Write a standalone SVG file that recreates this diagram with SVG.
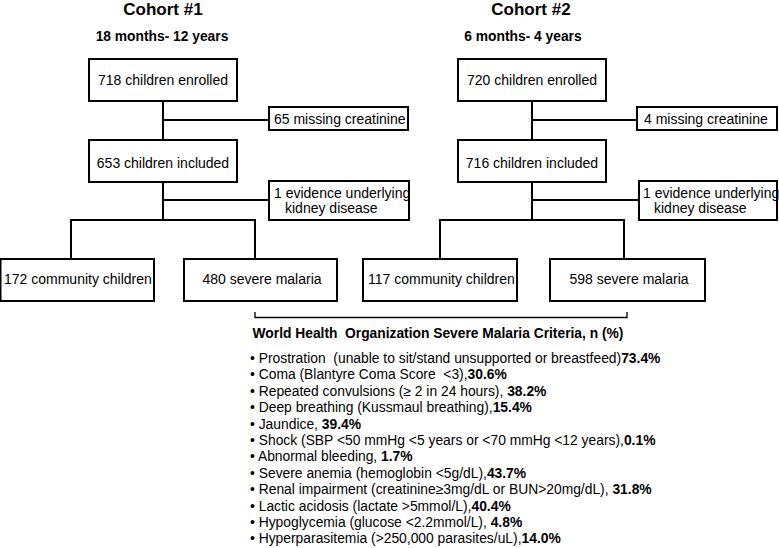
<svg xmlns="http://www.w3.org/2000/svg" width="779" height="548" viewBox="0 0 779 548">
<style>
text{font-family:"Liberation Sans",Arial,sans-serif;fill:#000;white-space:pre}
.t{font-size:17px;font-weight:bold;text-anchor:middle}
.s{font-size:13.8px;font-weight:bold;text-anchor:middle}
.n{font-size:14px}
.c{text-anchor:middle}
.l{font-size:13.85px}
.b{font-weight:bold}
rect{fill:#fff;stroke:#000;stroke-width:2}
.cn path{fill:none;stroke:#000;stroke-width:2}
.cn .br{stroke-width:1.3}
</style>
<rect x="0" y="0" width="779" height="548" style="stroke:none"/>
<g id="titles">
<text class="t" x="163" y="15">Cohort #1</text>
<text class="s" x="162" y="41">18 months- 12 years</text>
<text class="t" x="531" y="15">Cohort #2</text>
<text class="s" x="523" y="41">6 months- 4 years</text>
</g>
<g class="cn" id="connectors">
<path d="M163 101V140M163 120H269M163 182V220M163 200H269M71 259V220H255V259"/>
<path d="M532 101V140M532 120H637M532 182V220M532 200H639M440 259V220H624V259"/>
<path class="br" d="M255 312V317.5H627V312"/>
</g>
<g id="c1-enrolled"><rect x="89" y="59" width="148" height="42"/><text class="n c" x="163" y="85">718 children enrolled</text></g>
<g id="c1-missing"><rect x="269" y="107" width="139" height="23"/><text class="n" x="274" y="124">65 missing creatinine</text></g>
<g id="c1-included"><rect x="89" y="140" width="148" height="42"/><text class="n c" x="163" y="168">653 children included</text></g>
<g id="c1-kidney"><rect x="269" y="181" width="140" height="39"/><text class="n" x="274" y="198">1 evidence underlying</text><text class="n" x="285" y="213">kidney disease</text></g>
<g id="c1-community"><rect x="0.5" y="259" width="153.5" height="42"/><text class="n" x="4" y="284">172 community children</text></g>
<g id="c1-severe"><rect x="184" y="259" width="153" height="42"/><text class="n c" x="262" y="284">480 severe malaria</text></g>
<g id="c2-enrolled"><rect x="458" y="59" width="148" height="42"/><text class="n c" x="532" y="85">720 children enrolled</text></g>
<g id="c2-missing"><rect x="637" y="107" width="140" height="23"/><text class="n" x="644" y="124">4 missing creatinine</text></g>
<g id="c2-included"><rect x="458" y="140" width="148" height="42"/><text class="n c" x="532" y="168">716 children included</text></g>
<g id="c2-kidney"><rect x="639" y="181" width="138" height="39"/><text class="n" x="643" y="198">1 evidence underlying</text><text class="n" x="654" y="213">kidney disease</text></g>
<g id="c2-community"><rect x="363" y="259" width="154" height="42"/><text class="n" x="368" y="284">117 community children</text></g>
<g id="c2-severe"><rect x="550" y="259" width="155" height="42"/><text class="n c" x="629" y="284">598 severe malaria</text></g>
<g id="criteria">
<text class="s" x="438" y="338">World Health  Organization Severe Malaria Criteria, n (%)</text>
<g class="l">
<text x="250" y="363">• Prostration  (unable to sit/stand unsupported or breastfeed)<tspan class="b">73.4%</tspan></text>
<text x="250" y="379.4">• Coma (Blantyre Coma Score  &lt;3),<tspan class="b">30.6%</tspan></text>
<text x="250" y="395.8">• Repeated convulsions (≥ 2 in 24 hours), <tspan class="b">38.2%</tspan></text>
<text x="250" y="412.2">• Deep breathing (Kussmaul breathing),<tspan class="b">15.4%</tspan></text>
<text x="250" y="428.6">• Jaundice, <tspan class="b">39.4%</tspan></text>
<text x="250" y="445">• Shock (SBP &lt;50 mmHg &lt;5 years or &lt;70 mmHg &lt;12 years),<tspan class="b">0.1%</tspan></text>
<text x="250" y="461.4">• Abnormal bleeding, <tspan class="b">1.7%</tspan></text>
<text x="250" y="477.8">• Severe anemia (hemoglobin &lt;5g/dL),<tspan class="b">43.7%</tspan></text>
<text x="250" y="494.2">• Renal impairment (creatinine≥3mg/dL or BUN&gt;20mg/dL), <tspan class="b">31.8%</tspan></text>
<text x="250" y="510.6">• Lactic acidosis (lactate &gt;5mmol/L),<tspan class="b">40.4%</tspan></text>
<text x="250" y="527">• Hypoglycemia (glucose &lt;2.2mmol/L), <tspan class="b">4.8%</tspan></text>
<text x="250" y="543.4">• Hyperparasitemia (&gt;250,000 parasites/uL),<tspan class="b">14.0%</tspan></text>
</g>
</g>
</svg>
